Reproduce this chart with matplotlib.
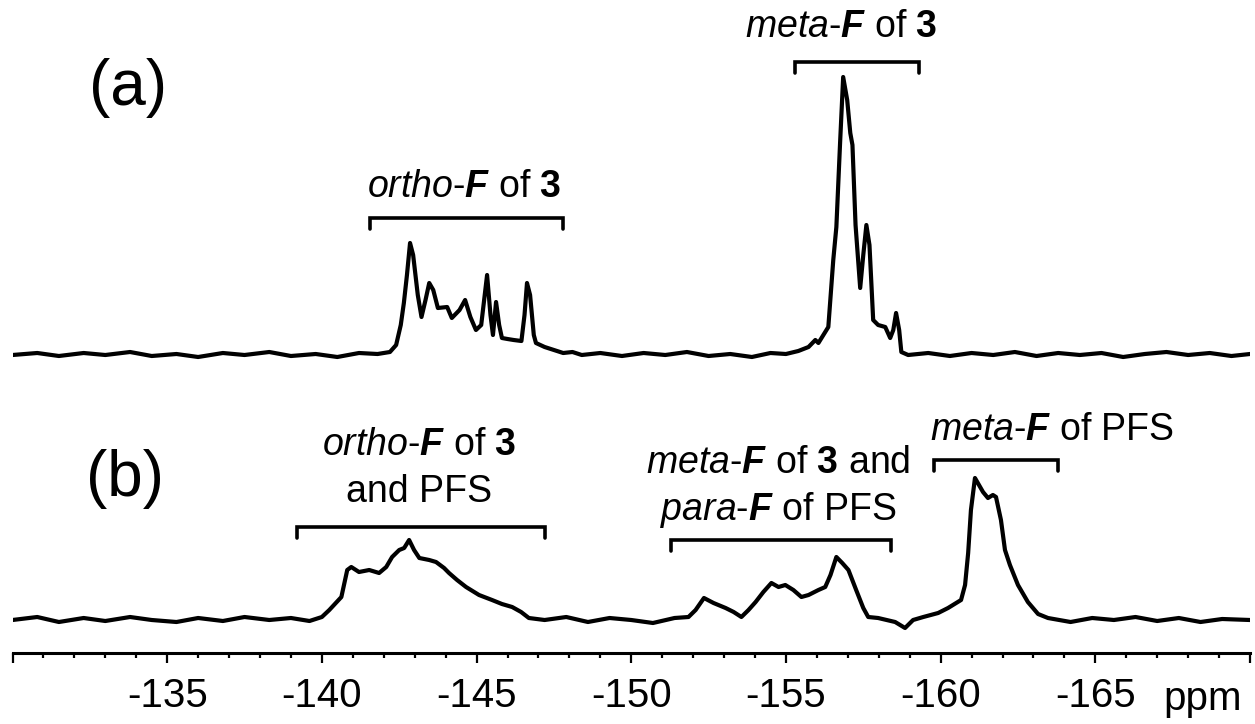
import matplotlib as mpl
import matplotlib.pyplot as plt
from matplotlib.ticker import FixedLocator, FixedFormatter
mpl.use('Agg')  # no display here

plt.rcParams['font.family'] = ['Liberation Sans', 'DejaVu Sans']
plt.rcParams['mathtext.fontset'] = 'custom'
plt.rcParams['mathtext.rm'] = 'Liberation Sans'
plt.rcParams['mathtext.it'] = 'Liberation Sans:italic'
plt.rcParams['mathtext.bf'] = 'Liberation Sans:bold'
plt.rcParams['mathtext.bfit'] = 'Liberation Sans:italic:bold'

# Spectrum (a): shift (ppm) and intensity above its baseline
ppm_a = [-130.0, -130.8, -131.5, -132.3, -133.0, -133.8, -134.5, -135.3, -136.0,
         -136.8, -137.5, -138.3, -139.0, -139.8, -140.5, -141.2, -141.8, -142.2,
         -142.4, -142.55, -142.65, -142.75, -142.85, -142.95, -143.1, -143.22,
         -143.35, -143.47, -143.6, -143.75, -144.05, -144.2, -144.45, -144.63,
         -144.8, -144.98, -145.15, -145.34, -145.45, -145.53, -145.63, -145.73,
         -145.82, -146.0, -146.2, -146.45, -146.55, -146.63, -146.73, -146.85,
         -146.92, -147.2, -147.5, -147.8, -148.1, -148.4, -149.0, -149.7, -150.4,
         -151.1, -151.8, -152.5, -153.2, -153.9, -154.5, -155.0, -155.4, -155.73,
         -155.95, -156.05, -156.37, -156.53, -156.63, -156.75, -156.85, -156.98,
         -157.08, -157.15, -157.25, -157.4, -157.5, -157.6, -157.7, -157.82,
         -157.98, -158.21, -158.37, -158.47, -158.56, -158.66, -158.73, -158.95,
         -159.6, -160.3, -161.0, -161.7, -162.4, -163.1, -163.8, -164.5, -165.2,
         -165.9, -166.6, -167.3, -168.0, -168.7, -169.4, -170.0]
int_a = [0, 2, -1, 2, 0, 3, -1, 1, -2,
         2, 0, 3, -1, 1, -2, 2, 1, 3,
         10, 30, 52, 80, 112, 100, 60, 38,
         55, 72, 65, 47, 48, 37, 45, 55,
         38, 25, 30, 80, 40, 20, 53, 30,
         17, 16, 15, 14, 40, 72, 60, 20,
         12, 8, 5, 2, 3, 0, 2, -1, 2,
         0, 3, -1, 1, -2, 2, 1, 4, 8,
         15, 12, 28, 95, 128, 212, 278, 255,
         222, 210, 130, 67, 100, 130, 110, 35,
         30, 28, 17, 25, 42, 25, 3, 0,
         2, -1, 2, 0, 3, -1, 2, 0, 2,
         -2, 1, 3, 0, 2, -1, 1]

# Spectrum (b)
ppm_b = [-130.0, -130.8, -131.5, -132.3, -133.0, -133.8, -134.5, -135.3, -136.0,
         -136.8, -137.5, -138.3, -139.0, -139.6, -140.0, -140.24, -140.63, -140.82,
         -140.95, -141.2, -141.53, -141.85, -142.08, -142.27, -142.5, -142.66,
         -142.82, -142.98, -143.15, -143.47, -143.69, -143.95, -144.11, -144.37,
         -144.66, -145.08, -145.5, -145.82, -146.15, -146.44, -146.69, -147.2,
         -147.9, -148.6, -149.3, -150.0, -150.7, -151.4, -151.85, -152.08, -152.35,
         -152.66, -153.05, -153.31, -153.56, -153.79, -154.02, -154.27, -154.53,
         -154.76, -154.98, -155.24, -155.5, -155.73, -156.05, -156.27, -156.44,
         -156.63, -156.82, -157.02, -157.27, -157.5, -157.66, -157.98, -158.53,
         -158.85, -159.11, -159.44, -159.92, -160.24, -160.66, -160.79, -160.89,
         -160.98, -161.11, -161.24, -161.37, -161.53, -161.69, -161.79, -161.95,
         -162.08, -162.24, -162.5, -162.82, -163.15, -163.47, -164.2, -164.9,
         -165.6, -166.3, -167.0, -167.7, -168.4, -169.1, -170.0]
int_b = [0, 3, -2, 2, -1, 3, 0, -2, 2,
         -1, 3, 0, 2, -1, 3, 10, 23, 50,
         53, 48, 50, 47, 53, 63, 70, 72,
         80, 70, 62, 60, 58, 52, 47, 40,
         33, 25, 20, 16, 13, 8, 2, 0,
         3, -2, 2, 0, -3, 2, 3, 10, 22,
         17, 12, 8, 3, 10, 18, 28, 37,
         33, 35, 30, 23, 25, 30, 33, 45,
         63, 57, 50, 30, 12, 3, 2, -2,
         -8, 0, 3, 7, 12, 20, 35, 67,
         110, 142, 135, 128, 122, 125, 123, 100,
         70, 55, 35, 18, 6, 2, -2, 2,
         0, 3, -1, 2, -2, 1, 0]

# baselines of the two traces on the shared y scale
base_a = 298
base_b = 33

# bracket spans (ppm) and the height of their top bar
brackets = [(-141.55, -147.8, 435), (-155.3, -159.3, 591),
            (-139.2, -147.2, 126), (-151.3, -158.4, 113), (-159.8, -163.8, 193)]
bracket_drop = 11

major_ticks = [-130, -135, -140, -145, -150, -155, -160, -165, -170]
major_labels = ['', '-135', '-140', '-145', '-150', '-155', '-160', '-165', '']
minor_ticks = list(range(-130, -171, -1))

fig = plt.figure(figsize=(12.55, 7.24), dpi=100)
ax = fig.add_axes([12.5 / 1255, 71 / 724, 1237.5 / 1255, 653 / 724])

ax.plot(ppm_a, [v + base_a for v in int_a], color='black', lw=3.0)
ax.plot(ppm_b, [v + base_b for v in int_b], color='black', lw=3.0)

for x0, x1, top in brackets:
    ax.plot([x0, x0, x1, x1], [top - bracket_drop, top, top, top - bracket_drop],
            color='black', lw=2.6, solid_capstyle='round', solid_joinstyle='miter')

ortho = r'$\mathit{ortho}$-$\mathbfit{F}$'
meta = r'$\mathit{meta}$-$\mathbfit{F}$'
para = r'$\mathit{para}$-$\mathbfit{F}$'
three = r'$\mathbf{3}$'
fs = 27
ax.text(-144.6, 456, ortho + ' of ' + three, fontsize=fs, ha='center', va='baseline')
ax.text(-156.8, 616, meta + ' of ' + three, fontsize=fs, ha='center', va='baseline')
ax.text(-143.15, 198, ortho + ' of ' + three, fontsize=fs, ha='center', va='baseline')
ax.text(-143.15, 151, 'and PFS', fontsize=fs, ha='center', va='baseline')
ax.text(-154.76, 180, meta + ' of ' + three + ' and', fontsize=fs, ha='center', va='baseline')
ax.text(-154.76, 133, para + ' of PFS', fontsize=fs, ha='center', va='baseline')
ax.text(-163.6, 213, meta + ' of PFS', fontsize=fs, ha='center', va='baseline')

ax.text(-133.73, 565, '(a)', fontsize=46, ha='center', va='center')
ax.text(-133.63, 174, '(b)', fontsize=46, ha='center', va='center')

ax.set_xlim(-130, -170)
ax.set_ylim(0, 653)
for side in ['top', 'left', 'right']:
    ax.spines[side].set_visible(False)
ax.spines['bottom'].set_linewidth(2.2)
ax.set_yticks([])
ax.xaxis.set_major_locator(FixedLocator(major_ticks))
ax.xaxis.set_major_formatter(FixedFormatter(major_labels))
ax.xaxis.set_minor_locator(FixedLocator(minor_ticks))
ax.tick_params(axis='x', which='major', direction='out', length=7, width=1.6,
               labelsize=29, pad=10)
ax.tick_params(axis='x', which='minor', direction='out', length=3.5, width=1.6)

fig.text(1203 / 1255, 1 - 710 / 724, 'ppm', fontsize=29, ha='center', va='baseline')

fig.savefig('out.png', dpi=100, facecolor='white')
plt.close(fig)
